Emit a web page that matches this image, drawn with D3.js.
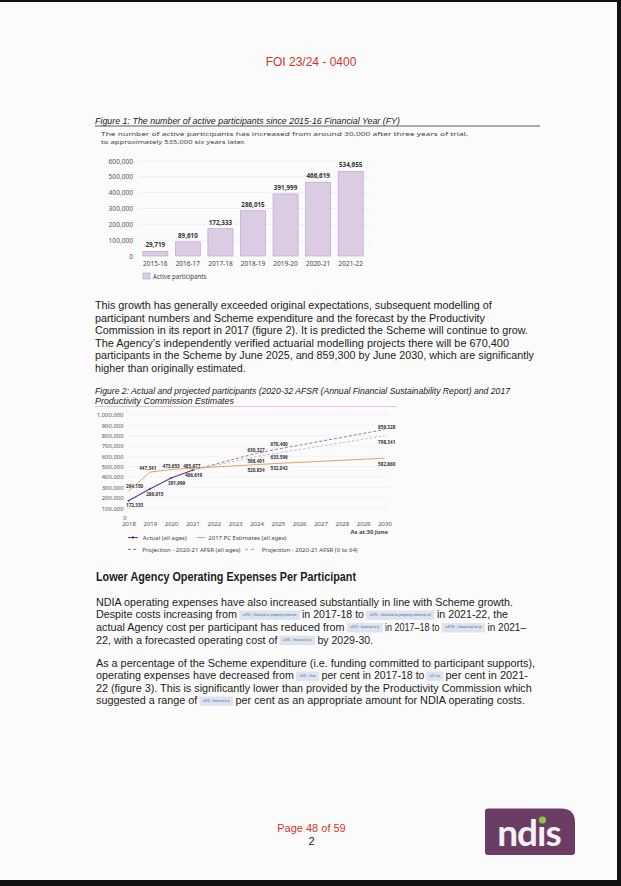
<!DOCTYPE html>
<html><head><meta charset="utf-8">
<script src="https://cdn.jsdelivr.net/npm/d3@7"></script>
<style>
html,body{margin:0;padding:0;background:#fbfbfb;}
svg{display:block;}
</style></head>
<body>
<svg id="page" width="621" height="886"></svg>
<script>
// ---------- Figure 1 data ----------
const fyCategories = ["2015-16","2016-17","2017-18","2018-19","2019-20","2020-21","2021-22"];
const activeParticipants = [29719, 89610, 172333, 286015, 391999, 466619, 534655];
const fig1Ticks = [0,100000,200000,300000,400000,500000,600000];

// ---------- Figure 2 data ----------
const fig2Ticks = [0,100000,200000,300000,400000,500000,600000,700000,800000,900000,1000000];
const fig2Years = [2018,2019,2020,2021,2022,2023,2024,2025,2026,2027,2028,2029,2030];
const actualYears = [2018,2019,2020,2021];
const actualValues = [172333,286015,391999,466619];
const pcYears = [2018,2019,2020,2021,2024,2025,2030];
const pcValues = [264150,447341,473653,485677,520834,532042,582860];
const projAllYears = [2021,2024,2025,2030];
const projAllValues = [466619,630327,670400,859328];
const proj064Years = [2021,2024,2025,2030];
const proj064Values = [466619,598491,633596,798341];

const svg = d3.select("#page");
const F = "'Liberation Sans', Arial, sans-serif";
const C = "'Noto Sans', 'Open Sans', sans-serif";
const fmt = d3.format(",");

// scan frame
svg.append("rect").attr("x",0).attr("y",0).attr("width",621).attr("height",886).attr("fill","#fbfbfb");
svg.append("rect").attr("x",0).attr("y",0).attr("width",621).attr("height",2).attr("fill","#111");
svg.append("rect").attr("x",617).attr("y",0).attr("width",4).attr("height",886).attr("fill","#111");
svg.append("rect").attr("x",0).attr("y",880).attr("width",621).attr("height",6).attr("fill","#111");

// header
svg.append("text").attr("x",311).attr("y",66).attr("text-anchor","middle")
  .attr("font-family",F).attr("font-size",12).attr("fill","#d2342c").text("FOI 23/24 - 0400");

// ---------- Figure 1 ----------
svg.append("text").attr("x",95).attr("y",123.5).attr("font-family",F).attr("font-size",9.8)
  .attr("font-style","italic").attr("fill","#222").attr("textLength",305).attr("lengthAdjust","spacingAndGlyphs")
  .text("Figure 1: The number of active participants since 2015-16 Financial Year (FY)");
svg.append("line").attr("x1",95).attr("x2",540).attr("y1",126).attr("y2",126).attr("stroke","#333").attr("stroke-width",0.8);
svg.append("text").attr("x",101).attr("y",136).attr("font-family",C).attr("font-size",5.9).attr("fill","#444")
  .attr("textLength",367).attr("lengthAdjust","spacingAndGlyphs")
  .text("The number of active participants has increased from around 30,000 after three years of trial,");
svg.append("text").attr("x",101).attr("y",143.5).attr("font-family",C).attr("font-size",5.9).attr("fill","#444")
  .attr("textLength",144).attr("lengthAdjust","spacingAndGlyphs")
  .text("to approximately 535,000 six years later.");

const x1 = d3.scaleBand().domain(fyCategories).range([139,367]).paddingInner(0.23).paddingOuter(0.115);
const y1 = d3.scaleLinear().domain([0,600000]).range([256,161]);
const g1 = svg.append("g");
g1.selectAll("line.grid").data(fig1Ticks.filter(d=>d>0)).join("line")
  .attr("x1",139).attr("x2",370).attr("y1",d=>y1(d)).attr("y2",d=>y1(d))
  .attr("stroke","#e8e8e8").attr("stroke-width",0.6);
const ax1 = g1.append("g").attr("transform","translate(133,0)")
  .call(d3.axisLeft(y1).tickValues(fig1Ticks).tickFormat(fmt).tickSize(0).tickPadding(0));
ax1.select(".domain").remove();
ax1.selectAll("text").attr("font-family",C).attr("font-size",6.6).attr("fill","#555");
g1.selectAll("rect.bar").data(activeParticipants).join("rect")
  .attr("x",(d,i)=>x1(fyCategories[i])).attr("width",x1.bandwidth())
  .attr("y",d=>y1(d)).attr("height",d=>y1(0)-y1(d))
  .attr("fill","#dccce3").attr("stroke","#b89dc6").attr("stroke-width",0.6);
g1.selectAll("text.val").data(activeParticipants).join("text")
  .attr("x",(d,i)=>x1(fyCategories[i])+x1.bandwidth()/2).attr("y",d=>y1(d)-4)
  .attr("text-anchor","middle").attr("font-family",C).attr("font-size",6.3).attr("font-weight","bold")
  .attr("fill","#333").text(d=>fmt(d));
const xa1 = g1.append("g").attr("transform","translate(0,258)")
  .call(d3.axisBottom(x1).tickSize(0).tickPadding(3));
xa1.select(".domain").remove();
xa1.selectAll("text").attr("font-family",C).attr("font-size",6.5).attr("fill","#444");
g1.append("rect").attr("x",143).attr("y",273).attr("width",7).attr("height",6)
  .attr("fill","#dccce3").attr("stroke","#b89dc6").attr("stroke-width",0.6);
g1.append("text").attr("x",153).attr("y",278.5).attr("font-family",C).attr("font-size",6.2).attr("fill","#444")
  .text("Active participants");

// ---------- Paragraph helper ----------
function para(lines, size){
  lines.forEach(l=>{
    l.segs.forEach(s=>{
      if(s.r){
        svg.append("rect").attr("x",s.x0).attr("y",l.y-8).attr("width",s.x1-s.x0).attr("height",9.5).attr("fill","#dfe4ec");
        svg.append("text").attr("x",s.x0+3.5).attr("y",l.y-2.6).attr("font-family",F).attr("font-size",3)
          .attr("fill","#2f62b8").attr("textLength",s.x1-s.x0-7).attr("lengthAdjust","spacingAndGlyphs").text(s.r);
      } else {
        svg.append("text").attr("x",s.x0).attr("y",l.y).attr("font-family",F).attr("font-size",size)
          .attr("fill","#1b1b1b").attr("textLength",s.x1-s.x0).attr("lengthAdjust","spacingAndGlyphs")
          .text(s.t);
      }
    });
  });
}

para([
  {y:309.3, segs:[{t:"This growth has generally exceeded original expectations, subsequent modelling of",x0:95,x1:491.7}]},
  {y:321.7, segs:[{t:"participant numbers and Scheme expenditure and the forecast by the Productivity",x0:95,x1:485}]},
  {y:334.2, segs:[{t:"Commission in its report in 2017 (figure 2). It is predicted the Scheme will continue to grow.",x0:95,x1:528}]},
  {y:346.8, segs:[{t:"The Agency\u2019s independently verified actuarial modelling projects there will be 670,400",x0:95,x1:509}]},
  {y:359.2, segs:[{t:"participants in the Scheme by June 2025, and 859,300 by June 2030, which are significantly",x0:95,x1:534}]},
  {y:371.8, segs:[{t:"higher than originally estimated.",x0:95,x1:245.7}]}
], 11.5);

// ---------- Figure 2 ----------
svg.append("text").attr("x",95).attr("y",393.5).attr("font-family",F).attr("font-size",9.8)
  .attr("font-style","italic").attr("fill","#222").attr("textLength",415).attr("lengthAdjust","spacingAndGlyphs")
  .text("Figure 2: Actual and projected participants (2020-32 AFSR (Annual Financial Sustainability Report) and 2017");
svg.append("text").attr("x",95).attr("y",404).attr("font-family",F).attr("font-size",9.8)
  .attr("font-style","italic").attr("fill","#222").attr("textLength",139).attr("lengthAdjust","spacingAndGlyphs")
  .text("Productivity Commission Estimates");
svg.append("line").attr("x1",95).attr("x2",397).attr("y1",406.5).attr("y2",406.5).attr("stroke","#d7b9d9").attr("stroke-width",0.8);

const x2 = d3.scaleLinear().domain([2018,2030]).range([128.5,384.5]);
const y2 = d3.scaleLinear().domain([0,1000000]).range([518.5,415]);
const g2 = svg.append("g");
g2.selectAll("line.grid").data(fig2Ticks.filter(d=>d>0)).join("line")
  .attr("x1",128).attr("x2",390).attr("y1",d=>y2(d)).attr("y2",d=>y2(d))
  .attr("stroke","#ededed").attr("stroke-width",0.6);
const ax2 = g2.append("g").attr("transform","translate(123.5,0)")
  .call(d3.axisLeft(y2).tickValues(fig2Ticks).tickFormat(fmt).tickSize(0).tickPadding(0));
ax2.select(".domain").remove();
ax2.selectAll("text").attr("font-family",C).attr("font-size",5.9).attr("fill","#555");
ax2.selectAll(".tick").filter(d=>d===0).select("text").attr("x",3).attr("dy","0.1em");
const xa2 = g2.append("g").attr("transform","translate(0,520)")
  .call(d3.axisBottom(x2).tickValues(fig2Years).tickFormat(d3.format("d")).tickSize(0).tickPadding(2));
xa2.select(".domain").remove();
xa2.selectAll("text").attr("font-family",C).attr("font-size",6).attr("fill","#555");
g2.append("text").attr("x",388).attr("y",534).attr("text-anchor","end").attr("font-family",C)
  .attr("font-size",5.9).attr("font-weight","bold").attr("fill","#444").text("As at 30 June");

const line = d3.line().x(d=>x2(d[0])).y(d=>y2(d[1]));
const zip = (a,b)=>a.map((v,i)=>[v,b[i]]);
const colAct = "#5e3590", colPC = "#dfa36d", colAll = "#8c6aa6", col064 = "#c2afd3";
g2.append("path").datum(zip(proj064Years,proj064Values)).attr("d",line).attr("fill","none")
  .attr("stroke",col064).attr("stroke-width",0.9).attr("stroke-dasharray","2.5,2");
g2.append("path").datum(zip(projAllYears,projAllValues)).attr("d",line).attr("fill","none")
  .attr("stroke",colAll).attr("stroke-width",0.9).attr("stroke-dasharray","3,2");
g2.append("path").datum(zip(pcYears,pcValues)).attr("d",line).attr("fill","none")
  .attr("stroke",colPC).attr("stroke-width",1);
g2.append("path").datum(zip(actualYears,actualValues)).attr("d",line).attr("fill","none")
  .attr("stroke",colAct).attr("stroke-width",1.1);
g2.selectAll("circle.act").data(zip(actualYears,actualValues)).join("circle")
  .attr("cx",d=>x2(d[0])).attr("cy",d=>y2(d[1])).attr("r",1).attr("fill",colAct);

// data labels placement per year: [dx, dy, anchor]
function labels(years, values, place){
  years.forEach((yr,i)=>{
    const p = place[yr]; if(!p) return;
    const t = g2.append("text").attr("y",y2(values[i])+p[1])
      .attr("font-family",C).attr("font-size",5.4).attr("font-weight","bold").attr("fill","#333")
      .attr("textLength",17.2).attr("lengthAdjust","spacingAndGlyphs")
      .text(fmt(values[i]));
    const cx = x2(yr)+p[0];
    t.attr("x", p[2]==="start" ? cx : cx-8.6);
  });
}
labels(actualYears, actualValues, {2018:[-2.5,6.8,"start"],2019:[5,7.3,"middle"],2020:[5.5,7,"middle"],2021:[1,7.2,"middle"]});
labels(pcYears, pcValues, {2018:[-2.5,-3.2,"start"],2019:[-2,-2,"middle"],2020:[0,-1.8,"middle"],2021:[-0.7,-0.6,"middle"],2024:[-0.5,7.4,"middle"],2025:[1.3,7,"middle"],2030:[2.2,7.5,"middle"]});
labels(projAllYears, projAllValues, {2024:[-0.5,-1.6,"middle"],2025:[1.3,-2.7,"middle"],2030:[2.2,-1,"middle"]});
labels(proj064Years, proj064Values, {2024:[-0.5,6.8,"middle"],2025:[1.3,6.3,"middle"],2030:[2.2,8.4,"middle"]});

// legend fig 2
const lg = svg.append("g").attr("font-family",C).attr("font-size",6).attr("fill","#444");
lg.append("line").attr("x1",128).attr("x2",138).attr("y1",537.5).attr("y2",537.5).attr("stroke",colAct).attr("stroke-width",1);
lg.append("circle").attr("cx",133).attr("cy",537.5).attr("r",1.2).attr("fill",colAct);
lg.append("text").attr("x",142.7).attr("y",539.7).text("Actual (all ages)");
lg.append("line").attr("x1",197).attr("x2",205).attr("y1",537.5).attr("y2",537.5).attr("stroke",colPC).attr("stroke-width",1);
lg.append("text").attr("x",208.3).attr("y",539.7).text("2017 PC Estimates (all ages)");
lg.append("line").attr("x1",128).attr("x2",137).attr("y1",549.3).attr("y2",549.3).attr("stroke","#9b5a86").attr("stroke-width",1).attr("stroke-dasharray","3,2");
lg.append("text").attr("x",142.3).attr("y",551.5).text("Projection - 2020-21 AFSR (all ages)");
lg.append("line").attr("x1",245).attr("x2",257).attr("y1",549.3).attr("y2",549.3).attr("stroke","#a9a2b3").attr("stroke-width",1).attr("stroke-dasharray","3,3");
lg.append("text").attr("x",261.7).attr("y",551.5).text("Projection - 2020-21 AFSR (0 to 64)");

// ---------- Section heading ----------
svg.append("text").attr("x",96).attr("y",580.5).attr("font-family",F).attr("font-size",12).attr("font-weight","bold")
  .attr("fill","#1b1b1b").attr("textLength",260).attr("lengthAdjust","spacingAndGlyphs")
  .text("Lower Agency Operating Expenses Per Participant");

const R1="s47D - financial or property interests", R2="s47D - financial or property interests of", R3="s47D - financial or p", R4="s47D - finan", R5="s47D - fina";
para([
  {y:606, segs:[{t:"NDIA operating expenses have also increased substantially in line with Scheme growth.",x0:96,x1:513}]},
  {y:618.4, segs:[{t:"Despite costs increasing from",x0:96,x1:237},{r:R1,x0:239.3,x1:300},{t:"in 2017-18 to",x0:302,x1:364},{r:R2,x0:366,x1:434},{t:"in 2021-22, the",x0:437,x1:508}]},
  {y:631, segs:[{t:"actual Agency cost per participant has reduced from",x0:96,x1:344.5},{r:R3,x0:346.7,x1:382.7},{t:"in 2017\u201318 to",x0:385,x1:439.5},{r:R3,x0:441.7,x1:485},{t:"in 2021\u2013",x0:487.5,x1:526}]},
  {y:643.6, segs:[{t:"22, with a forecasted operating cost of",x0:96,x1:277.5},{r:R3,x0:279.3,x1:315},{t:"by 2029-30.",x0:317.5,x1:373}]},
  {y:667, segs:[{t:"As a percentage of the Scheme expenditure (i.e. funding committed to participant supports),",x0:96,x1:535}]},
  {y:679.4, segs:[{t:"operating expenses have decreased from",x0:96,x1:294},{r:R4,x0:296,x1:319.3},{t:"per cent in 2017-18 to",x0:321.5,x1:424.5},{r:R5,x0:426,x1:443.3},{t:"per cent in 2021-",x0:445.5,x1:528}]},
  {y:691.8, segs:[{t:"22 (figure 3). This is significantly lower than provided by the Productivity Commission which",x0:96,x1:531.7}]},
  {y:704.4, segs:[{t:"suggested a range of",x0:96,x1:197.3},{r:R3,x0:199.3,x1:233.3},{t:"per cent as an appropriate amount for NDIA operating costs.",x0:235.5,x1:525}]}
], 11.2);

// ---------- Footer ----------
svg.append("text").attr("x",311.5).attr("y",832).attr("text-anchor","middle").attr("font-family",F)
  .attr("font-size",11).attr("fill","#d2342c").text("Page 48 of 59");
svg.append("text").attr("x",311.5).attr("y",845).attr("text-anchor","middle").attr("font-family",F)
  .attr("font-size",11).attr("fill","#222").text("2");

// NDIS logo
const lx=485, ly=808.5, lw=90, lh=46.5, rr=14;
svg.append("path").attr("d",`M${lx+3},${ly} H${lx+lw-rr} Q${lx+lw},${ly} ${lx+lw},${ly+rr} V${ly+lh-3} Q${lx+lw},${ly+lh} ${lx+lw-3},${ly+lh} H${lx+3} Q${lx},${ly+lh} ${lx},${ly+lh-3} V${ly+3} Q${lx},${ly} ${lx+3},${ly} Z`)
  .attr("fill","#6c3d64");
svg.append("text").attr("x",lx+lw/2-1).attr("y",ly+37).attr("text-anchor","middle").attr("font-family","'Lato','Open Sans',sans-serif")
  .attr("font-size",37).attr("font-weight","bold").attr("fill","#f4f0f3").attr("letter-spacing",-1).text("ndıs");
svg.append("circle").attr("cx",lx+lw/2+12.5).attr("cy",ly+11.5).attr("r",3.6).attr("fill","#8cc63f");
</script>
</body></html>
